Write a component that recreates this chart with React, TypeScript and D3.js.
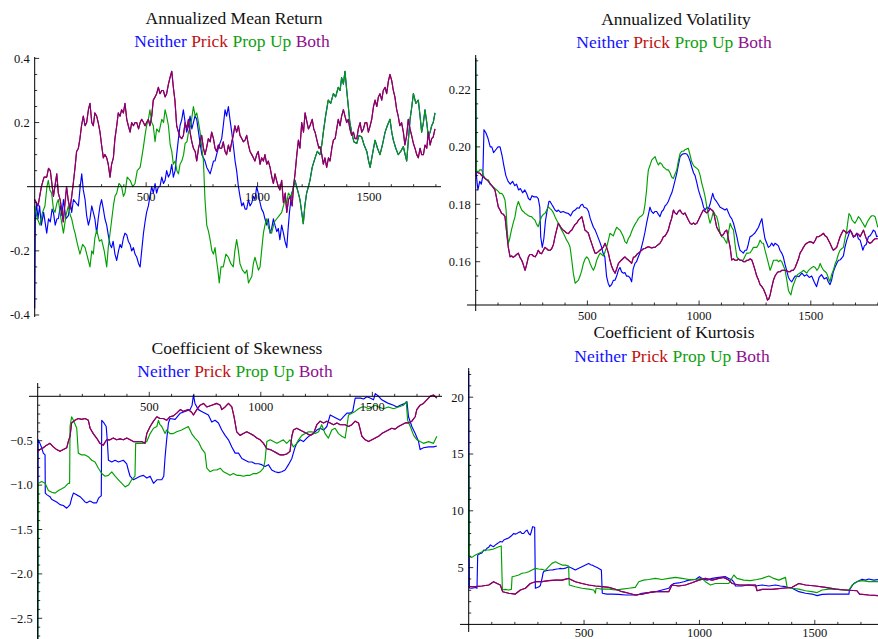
import React from 'react';
import * as d3 from 'd3';

type Pt = [number, number];

// legend / series names and colours
const seriesNames = ['Neither', 'Prick', 'Prop Up', 'Both'];
const legendColors = ['#1111ff', '#c01010', '#10a010', '#901090'];
const lineColors = ['#0000ff', '#c00000', '#00a000', '#800080'];

const titles = ['Annualized Mean Return', 'Annualized Volatility', 'Coefficient of Skewness', 'Coefficient of Kurtosis'];
const xTickLabels = [500, 1000, 1500];

// ---------- Annualized Mean Return ----------
const retPropUp: Pt[] = [[0,-0.06],[12,-0.1],[24,-0.12],[35,-0.08],[46,-0.06],[55,0.0],[61,0.02],[68,-0.01],[76,-0.02],[84,-0.07],[91,-0.08],[100,-0.05],[106,-0.04],[118,-0.1],[129,-0.145],[140,-0.09],[151,-0.06],[160,-0.09],[166,-0.1],[175,-0.13],[181,-0.145],[192,-0.18],[203,-0.21],[215,-0.18],[226,-0.19],[237,-0.22],[248,-0.25],[256,-0.2],[263,-0.21],[270,-0.16],[278,-0.135],[290,-0.17],[300,-0.165],[312,-0.2],[323,-0.25],[330,-0.19],[338,-0.145],[346,-0.1],[353,-0.06],[360,-0.03],[368,-0.02],[378,0.01],[390,0.0],[398,-0.03],[405,-0.02],[415,0.03],[428,0.02],[440,0.0],[450,0.01],[460,0.05],[473,0.06],[480,0.09],[488,0.125],[495,0.16],[502,0.19],[510,0.21],[517,0.24],[525,0.2],[532,0.19],[540,0.14],[547,0.18],[558,0.17],[570,0.21],[578,0.2],[585,0.24],[592,0.22],[600,0.19],[608,0.13],[615,0.11],[622,0.07],[630,0.08],[638,0.05],[645,0.04],[652,0.07],[660,0.08],[668,0.1],[675,0.135],[683,0.14],[690,0.17],[700,0.19],[712,0.25],[720,0.22],[727,0.23],[735,0.2],[742,0.17],[750,0.12],[757,0.08],[764,-0.04],[772,-0.12],[780,-0.14],[787,-0.165],[795,-0.2],[802,-0.21],[809,-0.19],[816,-0.23],[822,-0.26],[828,-0.3],[836,-0.25],[846,-0.25],[858,-0.21],[869,-0.22],[880,-0.24],[891,-0.25],[898,-0.2],[906,-0.165],[914,-0.2],[921,-0.24],[932,-0.26],[944,-0.27],[952,-0.26],[959,-0.3],[966,-0.29],[974,-0.28],[981,-0.24],[988,-0.22],[996,-0.24],[1004,-0.26],[1011,-0.25],[1018,-0.2],[1026,-0.145],[1033,-0.12],[1041,-0.1],[1050,-0.13],[1063,-0.145],[1075,-0.11],[1086,-0.1],[1097,-0.09],[1108,-0.08],[1116,-0.06],[1123,-0.04],[1131,-0.05],[1138,-0.02],[1150,-0.03],[1161,0.0],[1168,0.02],[1175,0.0],[1183,-0.02],[1190,-0.04],[1198,-0.08],[1205,-0.115],[1212,-0.06],[1220,-0.02],[1228,0.0],[1235,0.02],[1245,0.06],[1258,0.09],[1268,0.11],[1280,0.1],[1288,0.13],[1295,0.17],[1305,0.22],[1317,0.27],[1328,0.26],[1340,0.29],[1350,0.28],[1362,0.31],[1370,0.3],[1377,0.34],[1385,0.32],[1392,0.36],[1400,0.3],[1407,0.25],[1414,0.2],[1422,0.17],[1432,0.14],[1445,0.135],[1455,0.16],[1467,0.155],[1478,0.13],[1490,0.11],[1498,0.08],[1505,0.06],[1515,0.1],[1527,0.145],[1538,0.12],[1549,0.1],[1560,0.13],[1572,0.17],[1582,0.19],[1594,0.21],[1602,0.17],[1609,0.145],[1620,0.12],[1631,0.1],[1642,0.11],[1654,0.125],[1662,0.1],[1669,0.08],[1677,0.15],[1684,0.21],[1692,0.25],[1699,0.29],[1710,0.26],[1721,0.27],[1729,0.22],[1736,0.17],[1744,0.2],[1751,0.24],[1759,0.2],[1766,0.155],[1774,0.17],[1781,0.19],[1788,0.2],[1796,0.23]];

const retNeitherEarly: Pt[] = [[0,-0.38],[3,-0.1],[8,-0.05],[15,-0.1],[22,-0.06],[30,-0.12],[40,-0.08],[54,-0.145],[62,-0.1],[70,-0.11],[78,-0.07],[84,-0.08],[92,-0.12],[100,-0.1],[106,-0.1],[115,-0.06],[122,-0.09],[129,-0.04],[140,-0.1],[151,-0.09],[160,-0.05],[166,-0.08],[174,-0.04],[185,-0.05],[196,-0.06],[204,0.0],[211,0.04],[218,-0.01],[226,-0.04],[233,-0.09],[241,-0.12],[248,-0.1],[256,-0.06],[263,-0.08],[270,-0.1],[278,-0.145],[285,-0.1],[293,-0.06],[300,-0.04],[308,-0.07],[315,-0.1],[323,-0.12],[330,-0.15],[338,-0.18],[345,-0.19],[352,-0.17],[360,-0.21],[368,-0.23],[376,-0.2],[383,-0.18],[390,-0.19],[398,-0.16],[405,-0.145],[413,-0.15],[420,-0.17],[428,-0.18],[435,-0.2],[443,-0.19],[450,-0.21],[458,-0.22],[466,-0.24],[473,-0.25],[480,-0.2],[488,-0.145],[495,-0.11],[502,-0.08],[510,-0.06],[517,-0.03],[525,0.0],[532,-0.02],[540,0.01],[547,-0.02],[555,0.0],[562,0.0],[570,0.03],[578,0.01],[585,0.02],[592,0.05],[600,0.03],[607,0.04],[615,0.07],[622,0.03],[630,0.05],[637,0.1],[645,0.15],[652,0.19],[660,0.21],[667,0.24],[675,0.2],[682,0.17],[690,0.19],[697,0.22],[705,0.18],[712,0.2],[719,0.22],[727,0.21],[735,0.17],[742,0.135],[750,0.1],[757,0.09],[764,0.08],[772,0.06],[780,0.05],[787,0.04],[795,0.06],[802,0.08],[809,0.08],[816,0.1],[824,0.12],[831,0.135],[839,0.15],[846,0.19],[854,0.24],[861,0.22],[869,0.25],[876,0.21],[884,0.17],[891,0.13],[899,0.08],[906,0.05],[914,0.0],[921,-0.03],[929,-0.06],[936,-0.05],[944,-0.07],[951,-0.07],[959,-0.04],[966,-0.06],[974,-0.05],[981,-0.03],[988,-0.04],[996,0.0],[1003,-0.02],[1011,-0.05],[1018,-0.07],[1026,-0.08],[1033,-0.1],[1041,-0.12],[1048,-0.1],[1056,-0.145],[1063,-0.13],[1071,-0.1],[1078,-0.12],[1086,-0.14],[1093,-0.13],[1100,-0.165],[1108,-0.12],[1116,-0.145],[1123,-0.17],[1131,-0.19],[1136,-0.14],[1143,-0.08],[1148,-0.05],[1153,-0.02],[1160,-0.01]];
// after ~1160 the Neither curve lies under Prop Up
const retNeither: Pt[] = [...retNeitherEarly, ...retPropUp.filter(d => d[0] > 1160)];

const retBoth: Pt[] = [[0,-0.04],[15,-0.06],[30,0.0],[42,0.03],[54,0.03],[62,0.057],[70,0.05],[84,-0.03],[99,0.04],[106,-0.02],[114,-0.04],[121,-0.07],[128,-0.11],[136,-0.05],[143,0.0],[150,-0.04],[158,-0.07],[166,-0.03],[173,0.01],[181,0.06],[188,0.11],[196,0.12],[203,0.15],[210,0.19],[218,0.22],[226,0.19],[233,0.2],[241,0.24],[248,0.26],[256,0.2],[263,0.19],[270,0.23],[278,0.22],[285,0.2],[293,0.17],[300,0.13],[308,0.09],[315,0.1],[323,0.09],[330,0.07],[338,0.03],[345,0.07],[353,0.09],[360,0.15],[368,0.19],[375,0.23],[383,0.22],[390,0.24],[398,0.23],[405,0.26],[413,0.21],[420,0.19],[428,0.17],[435,0.2],[443,0.19],[450,0.2],[458,0.2],[466,0.18],[473,0.2],[480,0.21],[488,0.2],[495,0.19],[502,0.2],[510,0.21],[517,0.19],[525,0.22],[532,0.27],[540,0.28],[547,0.29],[555,0.31],[562,0.29],[570,0.3],[577,0.3],[585,0.28],[592,0.29],[600,0.32],[607,0.34],[615,0.36],[622,0.31],[629,0.27],[637,0.19],[645,0.17],[652,0.155],[660,0.15],[667,0.16],[675,0.2],[682,0.18],[690,0.21],[697,0.17],[705,0.14],[712,0.12],[720,0.11],[727,0.08],[735,0.12],[742,0.14],[749,0.16],[757,0.12],[764,0.1],[771,0.12],[779,0.15],[787,0.14],[794,0.17],[802,0.15],[809,0.12],[816,0.11],[824,0.13],[831,0.12],[839,0.12],[846,0.14],[854,0.11],[861,0.1],[869,0.13],[876,0.11],[884,0.14],[891,0.16],[898,0.19],[906,0.17],[914,0.19],[921,0.16],[929,0.15],[936,0.14],[944,0.145],[951,0.16],[959,0.13],[966,0.11],[974,0.1],[981,0.09],[988,0.08],[996,0.1],[1003,0.11],[1011,0.07],[1018,0.09],[1026,0.08],[1033,0.1],[1041,0.07],[1048,0.08],[1056,0.06],[1064,0.03],[1071,0.01],[1078,0.04],[1085,0.02],[1093,0.0],[1100,-0.01],[1108,0.02],[1116,-0.05],[1124,-0.02],[1131,-0.08],[1139,-0.04],[1146,-0.03],[1155,-0.06],[1161,0.0],[1168,0.04],[1176,0.1],[1183,0.145],[1190,0.12],[1198,0.2],[1206,0.17],[1213,0.23],[1222,0.2],[1228,0.18],[1235,0.19],[1245,0.21],[1252,0.18],[1258,0.17],[1268,0.14],[1275,0.12],[1280,0.125],[1288,0.1],[1295,0.07],[1302,0.09],[1310,0.06],[1318,0.09],[1325,0.08],[1333,0.12],[1340,0.145],[1348,0.15],[1355,0.18],[1362,0.21],[1370,0.19],[1377,0.22],[1385,0.24],[1392,0.22],[1400,0.2],[1407,0.21],[1414,0.18],[1422,0.16],[1430,0.17],[1437,0.15],[1445,0.15],[1452,0.18],[1460,0.2],[1467,0.17],[1475,0.18],[1482,0.2],[1490,0.2],[1497,0.17],[1505,0.19],[1512,0.21],[1520,0.25],[1527,0.27],[1535,0.25],[1542,0.28],[1549,0.29],[1557,0.27],[1564,0.3],[1572,0.31],[1579,0.29],[1587,0.33],[1594,0.35],[1602,0.33],[1609,0.3],[1616,0.28],[1624,0.24],[1631,0.22],[1638,0.19],[1646,0.2],[1654,0.17],[1661,0.13],[1669,0.16],[1676,0.21],[1684,0.18],[1691,0.16],[1699,0.135],[1706,0.12],[1714,0.1],[1721,0.09],[1729,0.12],[1736,0.1],[1744,0.1],[1751,0.13],[1759,0.12],[1766,0.17],[1774,0.13],[1781,0.15],[1788,0.155],[1796,0.18]];
const retPrick: Pt[] = retBoth;

// ---------- Annualized Volatility ----------
const volNeither: Pt[] = [[0,0.231],[3,0.19],[10,0.185],[18,0.188],[25,0.187],[32,0.19],[37,0.206],[45,0.205],[55,0.203],[65,0.2],[72,0.2],[80,0.198],[90,0.199],[100,0.2],[109,0.2],[118,0.197],[126,0.1935],[135,0.19],[145,0.188],[155,0.187],[165,0.188],[175,0.1865],[183,0.187],[192,0.185],[200,0.1855],[210,0.184],[220,0.185],[228,0.1838],[236,0.182],[244,0.1815],[252,0.183],[260,0.1826],[266,0.1826],[273,0.1826],[280,0.182],[287,0.179],[291,0.1687],[298,0.165],[305,0.168],[312,0.174],[320,0.178],[328,0.181],[333,0.181],[340,0.18],[348,0.179],[355,0.178],[363,0.1775],[370,0.178],[380,0.1772],[392,0.1775],[405,0.177],[415,0.1768],[425,0.176],[435,0.1775],[445,0.178],[455,0.1788],[463,0.1786],[470,0.1797],[478,0.18],[485,0.179],[497,0.1786],[505,0.1775],[513,0.175],[520,0.1735],[527,0.172],[535,0.171],[545,0.169],[555,0.167],[564,0.165],[570,0.163],[578,0.1617],[586,0.1548],[593,0.1525],[600,0.1513],[608,0.152],[616,0.1535],[624,0.1536],[631,0.155],[639,0.1571],[646,0.158],[653,0.1565],[660,0.156],[668,0.1562],[675,0.155],[683,0.155],[690,0.1545],[698,0.153],[705,0.1575],[713,0.1594],[720,0.16],[728,0.1617],[735,0.163],[742,0.165],[750,0.1675],[757,0.17],[765,0.1734],[772,0.176],[780,0.179],[787,0.1775],[795,0.1768],[803,0.1775],[810,0.1775],[818,0.1765],[825,0.1757],[833,0.1775],[840,0.178],[848,0.1795],[855,0.18],[862,0.181],[870,0.1826],[878,0.184],[885,0.186],[893,0.1885],[900,0.1908],[908,0.194],[915,0.1966],[925,0.1975],[937,0.1977],[945,0.1975],[952,0.1966],[960,0.195],[967,0.193],[975,0.191],[982,0.19],[990,0.1875],[997,0.185],[1005,0.183],[1012,0.1815],[1020,0.179],[1027,0.178],[1035,0.179],[1042,0.1785],[1049,0.18],[1055,0.182],[1061,0.1838],[1068,0.182],[1078,0.181],[1086,0.18],[1094,0.179],[1105,0.1785],[1116,0.178],[1124,0.1785],[1132,0.177],[1139,0.1757],[1146,0.175],[1154,0.1734],[1162,0.171],[1169,0.1687],[1176,0.166],[1183,0.164],[1191,0.1635],[1198,0.163],[1206,0.164],[1213,0.164],[1220,0.166],[1228,0.1687],[1236,0.169],[1243,0.1695],[1250,0.17],[1258,0.171],[1266,0.172],[1273,0.1735],[1281,0.175],[1288,0.1712],[1295,0.168],[1303,0.1664],[1310,0.165],[1318,0.1655],[1325,0.1665],[1333,0.1655],[1340,0.1664],[1348,0.166],[1355,0.1655],[1362,0.164],[1370,0.163],[1377,0.1617],[1385,0.159],[1392,0.157],[1400,0.1545],[1407,0.1536],[1415,0.153],[1422,0.154],[1430,0.155],[1437,0.155],[1447,0.1548],[1460,0.156],[1472,0.155],[1482,0.1555],[1493,0.1545],[1504,0.155],[1515,0.153],[1526,0.1513],[1537,0.1545],[1548,0.1555],[1560,0.154],[1571,0.1545],[1578,0.153],[1586,0.152],[1593,0.1535],[1601,0.1565],[1608,0.158],[1616,0.1594],[1624,0.1605],[1631,0.1606],[1638,0.1612],[1646,0.162],[1653,0.165],[1661,0.1675],[1668,0.169],[1676,0.171],[1683,0.17],[1691,0.1685],[1698,0.169],[1706,0.1699],[1713,0.168],[1721,0.1675],[1728,0.1655],[1733,0.164],[1740,0.1655],[1748,0.166],[1758,0.1687],[1765,0.169],[1773,0.1699],[1780,0.171],[1788,0.1705],[1795,0.1687],[1800,0.169]];

const volPropUp: Pt[] = [[0,0.231],[3,0.192],[10,0.191],[18,0.192],[27,0.192],[35,0.19],[42,0.189],[50,0.1885],[57,0.1885],[64,0.187],[72,0.1865],[80,0.186],[86,0.1855],[94,0.185],[101,0.1845],[108,0.1838],[116,0.1838],[124,0.183],[131,0.1815],[136,0.178],[139,0.1734],[143,0.169],[146,0.1664],[152,0.168],[160,0.171],[168,0.1735],[176,0.1757],[183,0.179],[191,0.181],[198,0.1795],[206,0.178],[213,0.1775],[221,0.1768],[228,0.1765],[236,0.176],[243,0.1758],[250,0.1757],[258,0.175],[265,0.1745],[273,0.173],[280,0.1722],[287,0.174],[295,0.1757],[303,0.1765],[310,0.1768],[318,0.178],[325,0.1791],[333,0.1785],[340,0.178],[348,0.177],[355,0.1757],[362,0.1745],[370,0.1734],[377,0.1722],[385,0.171],[392,0.17],[400,0.1687],[407,0.1675],[415,0.1665],[422,0.1652],[426,0.163],[430,0.1606],[437,0.156],[445,0.1525],[452,0.153],[460,0.1536],[467,0.155],[475,0.157],[482,0.1594],[490,0.161],[497,0.1617],[505,0.161],[512,0.1594],[520,0.158],[527,0.157],[535,0.1585],[542,0.1606],[550,0.162],[557,0.163],[564,0.1625],[572,0.162],[579,0.1635],[586,0.165],[594,0.1675],[601,0.1699],[608,0.1695],[616,0.169],[623,0.1705],[631,0.172],[638,0.1715],[646,0.171],[653,0.17],[661,0.1687],[668,0.167],[676,0.1664],[683,0.168],[691,0.169],[698,0.1705],[706,0.172],[713,0.173],[721,0.174],[728,0.175],[736,0.1757],[743,0.176],[751,0.1768],[758,0.18],[765,0.185],[769,0.189],[773,0.192],[780,0.1935],[788,0.1954],[795,0.196],[803,0.1966],[810,0.195],[818,0.1937],[825,0.1945],[833,0.194],[840,0.193],[848,0.1925],[855,0.192],[862,0.192],[870,0.191],[877,0.1895],[885,0.189],[892,0.1905],[900,0.192],[907,0.195],[915,0.1977],[922,0.1985],[930,0.1985],[937,0.199],[945,0.1993],[952,0.1995],[960,0.197],[967,0.1948],[975,0.1935],[982,0.193],[990,0.1925],[997,0.192],[1005,0.19],[1012,0.1873],[1020,0.185],[1027,0.1826],[1035,0.179],[1042,0.1757],[1049,0.1734],[1056,0.175],[1064,0.1775],[1071,0.1765],[1079,0.1757],[1086,0.1735],[1094,0.1699],[1101,0.1687],[1109,0.1685],[1116,0.1675],[1124,0.1664],[1131,0.17],[1139,0.1734],[1146,0.172],[1154,0.171],[1161,0.166],[1169,0.1617],[1176,0.161],[1183,0.1606],[1191,0.1605],[1198,0.1606],[1206,0.162],[1213,0.163],[1221,0.163],[1228,0.1631],[1236,0.164],[1243,0.165],[1250,0.165],[1258,0.165],[1266,0.166],[1273,0.1675],[1281,0.1665],[1288,0.1664],[1295,0.164],[1303,0.1617],[1310,0.1595],[1318,0.157],[1325,0.1585],[1333,0.1605],[1340,0.1605],[1348,0.1606],[1355,0.16],[1363,0.1605],[1370,0.16],[1378,0.1585],[1385,0.157],[1393,0.1535],[1400,0.15],[1406,0.149],[1411,0.1484],[1418,0.151],[1425,0.1525],[1432,0.154],[1440,0.1555],[1450,0.156],[1460,0.1565],[1467,0.157],[1475,0.1565],[1482,0.156],[1490,0.157],[1497,0.1575],[1505,0.158],[1512,0.1583],[1520,0.158],[1527,0.157],[1535,0.1578],[1542,0.1594],[1550,0.158],[1557,0.157],[1565,0.1565],[1571,0.156],[1578,0.1545],[1586,0.153],[1593,0.1555],[1601,0.157],[1608,0.159],[1616,0.1606],[1623,0.1625],[1631,0.164],[1638,0.1645],[1646,0.165],[1653,0.168],[1661,0.171],[1666,0.174],[1671,0.1768],[1678,0.176],[1685,0.1745],[1691,0.174],[1698,0.1734],[1706,0.1745],[1713,0.1757],[1721,0.175],[1728,0.174],[1736,0.173],[1743,0.172],[1751,0.1735],[1758,0.1745],[1766,0.1755],[1773,0.176],[1781,0.176],[1788,0.1757],[1795,0.1735],[1800,0.172]];

const volBoth: Pt[] = [[0,0.1914],[10,0.191],[19,0.1908],[27,0.19],[35,0.1895],[42,0.189],[50,0.1885],[57,0.188],[64,0.1873],[72,0.1865],[79,0.1858],[86,0.185],[94,0.182],[101,0.1791],[109,0.178],[116,0.1768],[124,0.1765],[131,0.1757],[135,0.173],[139,0.1699],[146,0.165],[154,0.1617],[161,0.162],[168,0.1615],[176,0.162],[183,0.1625],[191,0.163],[198,0.1615],[206,0.1605],[213,0.159],[221,0.157],[228,0.159],[236,0.1617],[243,0.1625],[251,0.1625],[258,0.162],[266,0.1617],[273,0.1625],[280,0.164],[288,0.163],[295,0.1628],[303,0.164],[310,0.165],[318,0.1645],[325,0.164],[333,0.164],[340,0.1645],[348,0.166],[355,0.1687],[362,0.171],[370,0.1734],[377,0.1725],[385,0.1715],[392,0.171],[400,0.1705],[407,0.17],[415,0.1698],[422,0.1705],[430,0.171],[437,0.172],[445,0.173],[452,0.1734],[460,0.1745],[467,0.175],[475,0.1757],[482,0.1735],[489,0.171],[497,0.1705],[504,0.17],[512,0.168],[519,0.1664],[527,0.1645],[534,0.163],[541,0.163],[549,0.1635],[556,0.164],[564,0.1645],[571,0.165],[579,0.1664],[586,0.165],[594,0.163],[601,0.1605],[609,0.1583],[616,0.157],[624,0.156],[631,0.1575],[639,0.1594],[646,0.16],[653,0.1606],[661,0.1612],[668,0.1617],[676,0.161],[683,0.1606],[691,0.16],[698,0.1594],[706,0.1615],[713,0.1617],[721,0.1625],[728,0.163],[736,0.1635],[743,0.164],[751,0.1645],[758,0.1646],[766,0.165],[773,0.1652],[781,0.165],[788,0.1648],[796,0.165],[803,0.165],[810,0.1655],[818,0.166],[825,0.1664],[833,0.1675],[840,0.1687],[848,0.169],[855,0.1699],[862,0.171],[870,0.1734],[877,0.175],[885,0.178],[892,0.177],[900,0.1765],[907,0.1775],[915,0.178],[922,0.177],[930,0.1765],[937,0.177],[945,0.1757],[952,0.1745],[960,0.1734],[967,0.173],[975,0.1735],[982,0.173],[990,0.1734],[997,0.1745],[1004,0.1757],[1012,0.177],[1019,0.178],[1027,0.1775],[1034,0.177],[1042,0.1775],[1049,0.1786],[1057,0.178],[1064,0.1775],[1071,0.175],[1079,0.172],[1086,0.171],[1094,0.1699],[1101,0.169],[1109,0.1695],[1116,0.1705],[1124,0.171],[1131,0.168],[1139,0.165],[1143,0.1625],[1146,0.1606],[1154,0.161],[1161,0.1605],[1169,0.1605],[1176,0.161],[1184,0.1605],[1191,0.1605],[1199,0.16],[1206,0.16],[1214,0.1605],[1221,0.1605],[1228,0.161],[1236,0.1606],[1243,0.159],[1251,0.157],[1258,0.155],[1266,0.1536],[1273,0.152],[1281,0.1513],[1288,0.1505],[1296,0.149],[1301,0.148],[1306,0.1466],[1312,0.147],[1318,0.1484],[1325,0.151],[1333,0.1536],[1340,0.155],[1348,0.156],[1355,0.1565],[1363,0.1565],[1370,0.157],[1377,0.157],[1385,0.157],[1392,0.1568],[1400,0.1565],[1407,0.1565],[1415,0.157],[1422,0.157],[1430,0.158],[1437,0.1594],[1445,0.161],[1452,0.163],[1460,0.164],[1467,0.165],[1475,0.166],[1482,0.1664],[1490,0.1668],[1497,0.167],[1505,0.1668],[1512,0.1664],[1520,0.1675],[1527,0.1687],[1535,0.1687],[1542,0.169],[1550,0.1695],[1557,0.1699],[1564,0.169],[1571,0.1687],[1579,0.1675],[1586,0.1664],[1594,0.165],[1601,0.164],[1609,0.1645],[1616,0.165],[1624,0.167],[1631,0.1687],[1639,0.17],[1646,0.171],[1654,0.1705],[1661,0.1699],[1669,0.1705],[1676,0.171],[1684,0.17],[1691,0.1687],[1699,0.169],[1706,0.1699],[1714,0.1695],[1721,0.1687],[1729,0.17],[1736,0.171],[1744,0.169],[1751,0.1675],[1758,0.1668],[1765,0.1664],[1773,0.1668],[1780,0.1675],[1788,0.168],[1795,0.168],[1800,0.168]];
const volPrick: Pt[] = volBoth;

// ---------- Coefficient of Skewness ----------
const skewNeither: Pt[] = [[0,-2.9],[2,-0.49],[10,-0.53],[18,-0.58],[25,-0.64],[33,-0.66],[34,-1.09],[42,-1.11],[55,-1.13],[62,-1.16],[70,-1.17],[85,-1.19],[100,-1.22],[115,-1.23],[130,-1.26],[138,-1.24],[145,-1.22],[152,-1.15],[160,-1.09],[168,-1.1],[175,-1.11],[190,-1.13],[205,-1.17],[212,-1.19],[220,-1.2],[234,-1.18],[249,-1.2],[264,-1.2],[272,-1.15],[280,-1.13],[285,-1.12],[287,-0.27],[297,-0.3],[307,-0.34],[312,-0.5],[317,-0.72],[332,-0.74],[347,-0.72],[362,-0.74],[384,-0.72],[399,-0.76],[406,-0.83],[414,-0.9],[429,-0.94],[444,-0.92],[459,-0.9],[474,-0.89],[489,-0.92],[504,-0.9],[519,-0.98],[534,-0.94],[556,-0.94],[565,-0.9],[571,-0.68],[578,-0.49],[586,-0.3],[593,-0.25],[616,-0.26],[639,-0.19],[660,-0.17],[683,-0.15],[692,-0.1],[698,0.015],[705,-0.08],[720,-0.15],[735,-0.17],[750,-0.19],[765,-0.21],[780,-0.29],[795,-0.27],[810,-0.3],[825,-0.38],[840,-0.44],[855,-0.49],[870,-0.57],[885,-0.64],[900,-0.64],[915,-0.7],[930,-0.72],[945,-0.74],[960,-0.74],[975,-0.76],[990,-0.76],[1004,-0.77],[1019,-0.79],[1034,-0.77],[1049,-0.83],[1064,-0.85],[1079,-0.86],[1094,-0.85],[1109,-0.83],[1124,-0.77],[1139,-0.7],[1154,-0.57],[1161,-0.53],[1176,-0.49],[1191,-0.51],[1206,-0.47],[1221,-0.44],[1236,-0.42],[1251,-0.38],[1266,-0.36],[1281,-0.38],[1296,-0.34],[1311,-0.21],[1326,-0.23],[1341,-0.25],[1356,-0.27],[1371,-0.23],[1386,-0.19],[1400,-0.19],[1412,-0.17],[1423,-0.02],[1447,-0.02],[1461,-0.03],[1475,-0.005],[1490,-0.02],[1505,-0.04],[1513,0.03],[1528,0.0],[1542,-0.04],[1557,-0.06],[1572,-0.08],[1595,-0.1],[1610,-0.12],[1625,-0.1],[1647,-0.08],[1655,-0.06],[1662,-0.23],[1677,-0.34],[1692,-0.42],[1707,-0.51],[1714,-0.6],[1729,-0.58],[1752,-0.57],[1774,-0.57],[1789,-0.56]];

const skewPropUp: Pt[] = [[0,-2.9],[3,-0.98],[18,-0.96],[33,-0.98],[48,-1.06],[63,-1.08],[78,-1.09],[93,-1.06],[108,-1.04],[122,-1.02],[137,-0.98],[143,-0.98],[145,-0.34],[152,-0.23],[160,-0.27],[175,-0.36],[182,-0.64],[197,-0.66],[212,-0.66],[227,-0.68],[242,-0.72],[257,-0.74],[272,-0.81],[287,-0.87],[302,-0.9],[317,-0.89],[332,-0.85],[347,-0.9],[362,-0.94],[377,-0.98],[392,-1.02],[407,-1.0],[421,-0.94],[436,-0.9],[439,-0.53],[454,-0.53],[473,-0.53],[489,-0.51],[504,-0.42],[519,-0.36],[534,-0.34],[541,-0.27],[548,-0.32],[556,-0.34],[571,-0.42],[578,-0.38],[593,-0.42],[608,-0.42],[623,-0.4],[645,-0.38],[660,-0.36],[675,-0.34],[690,-0.42],[705,-0.47],[720,-0.51],[735,-0.59],[750,-0.64],[758,-0.81],[773,-0.85],[788,-0.83],[803,-0.83],[818,-0.81],[833,-0.85],[848,-0.87],[862,-0.89],[877,-0.87],[892,-0.89],[907,-0.89],[922,-0.9],[937,-0.89],[952,-0.89],[967,-0.87],[982,-0.87],[997,-0.85],[1012,-0.81],[1019,-0.72],[1027,-0.51],[1042,-0.49],[1057,-0.51],[1072,-0.53],[1087,-0.51],[1101,-0.49],[1116,-0.53],[1131,-0.49],[1146,-0.57],[1161,-0.53],[1169,-0.49],[1184,-0.44],[1199,-0.42],[1214,-0.4],[1229,-0.4],[1244,-0.42],[1259,-0.4],[1273,-0.32],[1288,-0.42],[1303,-0.47],[1318,-0.38],[1333,-0.36],[1348,-0.42],[1363,-0.45],[1378,-0.47],[1386,-0.34],[1393,-0.21],[1408,-0.19],[1423,-0.17],[1438,-0.14],[1453,-0.12],[1468,-0.12],[1483,-0.14],[1498,-0.12],[1513,-0.1],[1528,-0.12],[1550,-0.14],[1572,-0.12],[1595,-0.14],[1617,-0.12],[1640,-0.1],[1652,-0.06],[1658,-0.27],[1670,-0.34],[1685,-0.44],[1700,-0.49],[1714,-0.51],[1729,-0.53],[1752,-0.51],[1774,-0.53],[1789,-0.45]];

const skewBoth: Pt[] = [[0,-0.62],[10,-0.6],[25,-0.58],[40,-0.55],[55,-0.53],[70,-0.57],[85,-0.6],[100,-0.62],[115,-0.6],[130,-0.58],[137,-0.51],[145,-0.45],[152,-0.3],[167,-0.27],[182,-0.25],[197,-0.26],[212,-0.25],[227,-0.27],[235,-0.36],[249,-0.42],[264,-0.47],[279,-0.53],[294,-0.55],[309,-0.49],[324,-0.49],[339,-0.47],[354,-0.49],[369,-0.48],[384,-0.49],[399,-0.47],[414,-0.49],[429,-0.51],[444,-0.51],[466,-0.51],[481,-0.53],[489,-0.42],[504,-0.34],[519,-0.28],[534,-0.23],[548,-0.25],[563,-0.25],[578,-0.27],[593,-0.23],[608,-0.22],[623,-0.19],[639,-0.15],[653,-0.17],[675,-0.15],[690,-0.18],[698,-0.21],[713,-0.15],[728,-0.1],[743,-0.08],[758,-0.12],[780,-0.1],[803,-0.08],[818,-0.1],[825,-0.15],[840,-0.12],[855,-0.08],[870,-0.12],[880,-0.23],[892,-0.4],[907,-0.44],[922,-0.42],[937,-0.4],[952,-0.42],[967,-0.44],[982,-0.47],[997,-0.49],[1012,-0.53],[1027,-0.59],[1042,-0.6],[1057,-0.62],[1072,-0.64],[1087,-0.66],[1101,-0.66],[1116,-0.65],[1131,-0.62],[1139,-0.45],[1146,-0.38],[1161,-0.36],[1176,-0.38],[1191,-0.4],[1206,-0.42],[1221,-0.44],[1236,-0.42],[1251,-0.32],[1266,-0.28],[1281,-0.3],[1296,-0.28],[1311,-0.3],[1326,-0.32],[1341,-0.3],[1356,-0.32],[1378,-0.32],[1393,-0.34],[1408,-0.32],[1423,-0.28],[1438,-0.3],[1453,-0.45],[1468,-0.49],[1483,-0.51],[1498,-0.49],[1513,-0.47],[1528,-0.45],[1542,-0.42],[1557,-0.4],[1572,-0.38],[1587,-0.36],[1602,-0.37],[1617,-0.34],[1632,-0.32],[1647,-0.3],[1662,-0.3],[1677,-0.28],[1692,-0.23],[1699,-0.15],[1714,-0.1],[1729,-0.08],[1744,-0.04],[1759,0.0],[1774,0.015],[1789,-0.02]];
const skewPrick: Pt[] = skewBoth;

// ---------- Coefficient of Kurtosis ----------
const kurtNeither: Pt[] = [[0,22.3],[3,3.2],[14,3.18],[29,3.25],[36,3.18],[39,6.1],[50,6.25],[58,6.3],[65,6.55],[72,6.5],[79,6.7],[87,6.8],[94,7.0],[101,6.9],[108,6.85],[116,7.0],[123,7.1],[130,7.2],[137,7.3],[145,7.25],[152,7.43],[159,7.5],[166,7.55],[173,7.6],[180,7.72],[188,7.85],[195,8.0],[202,7.95],[209,8.0],[217,8.1],[224,8.16],[231,8.0],[238,8.0],[246,8.2],[253,8.3],[260,8.0],[267,7.87],[272,8.2],[277,8.6],[286,8.55],[289,3.18],[303,3.3],[310,3.4],[318,4.06],[322,4.5],[325,4.65],[339,4.74],[354,4.79],[365,4.8],[376,4.85],[390,4.9],[397,4.93],[408,4.9],[419,4.95],[433,5.08],[448,4.95],[462,4.79],[477,4.95],[491,5.08],[506,5.22],[513,5.3],[520,5.37],[528,5.25],[535,5.22],[542,5.15],[549,5.08],[557,5.0],[564,4.93],[575,4.79],[579,2.74],[599,2.67],[621,2.67],[650,2.64],[679,2.59],[708,2.59],[730,2.59],[751,2.74],[780,2.8],[809,2.88],[838,3.03],[867,3.18],[875,3.4],[889,3.6],[910,3.65],[932,3.76],[954,3.9],[983,3.95],[1000,4.2],[1011,4.05],[1033,3.9],[1055,4.05],[1084,4.14],[1113,4.2],[1127,4.05],[1142,3.9],[1150,3.7],[1156,3.38],[1185,3.38],[1214,3.47],[1243,3.38],[1272,3.47],[1301,3.38],[1330,3.47],[1351,3.38],[1373,3.32],[1402,3.18],[1431,2.88],[1460,2.74],[1488,2.67],[1510,2.53],[1532,2.64],[1561,2.67],[1590,2.67],[1619,2.67],[1648,2.67],[1650,3.03],[1669,3.6],[1683,3.76],[1705,3.97],[1720,3.9],[1734,4.0],[1755,3.9],[1775,3.95],[1800,3.9]];

const kurtPropUp: Pt[] = [[0,15],[3,5.96],[14,5.9],[29,6.1],[43,6.25],[58,6.4],[72,6.55],[87,6.55],[101,6.6],[116,6.7],[130,6.84],[141,6.9],[146,3.03],[159,3.08],[173,3.03],[185,3.08],[188,4.2],[202,4.26],[217,4.35],[231,4.5],[246,4.55],[260,4.64],[274,4.79],[289,4.93],[303,4.88],[318,4.85],[332,4.75],[347,5.08],[361,5.37],[376,5.51],[390,5.37],[405,5.22],[419,5.22],[433,5.13],[436,3.47],[462,3.32],[491,3.18],[520,3.1],[542,3.03],[549,2.74],[552,3.18],[578,3.1],[607,3.1],[636,3.03],[665,3.1],[694,3.18],[722,3.26],[737,3.76],[758,3.9],[780,3.95],[809,4.05],[838,3.95],[867,4.05],[896,4.14],[925,4.05],[954,3.95],[983,3.95],[1011,4.05],[1026,3.76],[1048,3.47],[1069,3.6],[1098,3.6],[1127,3.6],[1149,4.35],[1163,4.05],[1192,3.9],[1221,3.85],[1250,3.95],[1272,4.05],[1301,4.26],[1322,4.05],[1344,3.9],[1373,4.14],[1380,3.26],[1402,3.18],[1431,3.1],[1460,2.96],[1488,2.88],[1510,2.8],[1532,3.03],[1561,3.1],[1590,3.1],[1619,3.03],[1648,3.03],[1662,3.47],[1683,3.76],[1705,3.85],[1734,3.76],[1775,3.76],[1800,3.8]];

const kurtBoth: Pt[] = [[0,3.32],[29,3.32],[58,3.38],[87,3.47],[108,3.76],[123,3.6],[137,3.47],[147,2.88],[173,2.74],[202,2.67],[224,3.03],[246,3.18],[267,3.6],[289,3.76],[318,3.76],[347,3.85],[376,3.9],[405,3.9],[433,4.05],[462,3.76],[491,3.6],[520,3.47],[549,3.38],[578,3.32],[607,3.26],[636,3.1],[665,2.88],[694,2.74],[722,2.59],[751,2.67],[780,2.8],[809,2.88],[838,2.88],[867,2.88],[881,3.47],[910,3.38],[939,3.47],[968,3.67],[997,3.9],[1026,4.05],[1055,3.9],[1084,4.05],[1105,4.14],[1127,3.9],[1142,3.6],[1171,3.47],[1214,3.47],[1243,3.47],[1250,2.96],[1272,3.08],[1315,3.08],[1359,3.18],[1402,3.26],[1431,3.6],[1460,3.47],[1503,3.38],[1546,3.26],[1590,3.1],[1633,3.03],[1683,2.96],[1694,2.67],[1734,2.59],[1775,2.53],[1800,2.53]];
const kurtPrick: Pt[] = kurtBoth;

// y tick labels per panel
const retTicks = [0.4, 0.2, -0.2, -0.4];
const volTicks = [0.22, 0.2, 0.18, 0.16];
const skewTicks = [-0.5, -1.0, -1.5, -2.0, -2.5];
const kurtTicks = [20, 15, 10, 5];

interface Panel {
  title: string;
  series: Pt[][];
  x: d3.ScaleLinear<number, number>;
  y: d3.ScaleLinear<number, number>;
  xAxisY: number;
  xLabelDy: number;
  xAxisExtent: [number, number];
  yAxisExtent: [number, number];
  yMajor: number[];
  yMinorStep: number;
  yMinorRange: [number, number];
  yFmt: (v: number) => string;
  clip: [number, number, number, number];
  titleX: number;
  titleY: number;
  legendX: number;
  legendY: number;
}

const panels: Panel[] = [
  {
    title: titles[0],
    series: [retNeither, retPrick, retPropUp, retBoth],
    x: d3.scaleLinear().domain([0, 1800]).range([34.7, 435.9]),
    y: d3.scaleLinear().domain([-0.4, 0.4]).range([315, 58.4]),
    xAxisY: 186.7,
    xLabelDy: 14.5,
    xAxisExtent: [27, 441],
    yAxisExtent: [57, 317],
    yMajor: retTicks,
    yMinorStep: 0.05,
    yMinorRange: [-0.4, 0.4],
    yFmt: v => d3.format('.1f')(v).replace('−', '-'),
    clip: [34, 50, 407, 270],
    titleX: 234, titleY: 24, legendX: 232, legendY: 47,
  },
  {
    title: titles[1],
    series: [volNeither, volPrick, volPropUp, volBoth],
    x: d3.scaleLinear().domain([0, 1800]).range([475.7, 877.8]),
    y: d3.scaleLinear().domain([0.16, 0.22]).range([261.7, 89.5]),
    xAxisY: 305,
    xLabelDy: 14.5,
    xAxisExtent: [467, 878],
    yAxisExtent: [55, 311],
    yMajor: volTicks,
    yMinorStep: 0.005,
    yMinorRange: [0.15, 0.23],
    yFmt: v => d3.format('.2f')(v),
    clip: [475, 55, 403, 250],
    titleX: 676, titleY: 25, legendX: 674, legendY: 48,
  },
  {
    title: titles[2],
    series: [skewNeither, skewPrick, skewPropUp, skewBoth],
    x: d3.scaleLinear().domain([0, 1800]).range([37.7, 439.3]),
    y: d3.scaleLinear().domain([0, -2.5]).range([396.3, 618.3]),
    xAxisY: 396.3,
    xLabelDy: 14.5,
    xAxisExtent: [29, 442],
    yAxisExtent: [383, 639],
    yMajor: skewTicks,
    yMinorStep: 0.1,
    yMinorRange: [-2.7, 0.1],
    yFmt: v => d3.format('.1f')(v),
    clip: [37, 383, 405, 256],
    titleX: 237, titleY: 354, legendX: 235, legendY: 377,
  },
  {
    title: titles[3],
    series: [kurtNeither, kurtPrick, kurtPropUp, kurtBoth],
    x: d3.scaleLinear().domain([0, 1800]).range([468.7, 884]),
    y: d3.scaleLinear().domain([0, 20]).range([624.4, 397.2]),
    xAxisY: 624.4,
    xLabelDy: 12.3,
    xAxisExtent: [460, 878],
    yAxisExtent: [368, 632],
    yMajor: kurtTicks,
    yMinorStep: 1,
    yMinorRange: [1, 22],
    yFmt: v => String(v),
    clip: [468, 368, 410, 257],
    titleX: 674, titleY: 338, legendX: 672, legendY: 362,
  },
];

const font = '"Liberation Serif", "Times New Roman", serif';

const PanelView: React.FC<{ p: Panel; idx: number }> = ({ p, idx }) => {
  const line = d3.line<Pt>().x(d => p.x(d[0])).y(d => p.y(d[1]));
  const yAxisX = p.x(0);
  const xTicks = d3.range(100, 1801, 100);
  const yMinor = d3.range(
    Math.round(p.yMinorRange[0] / p.yMinorStep),
    Math.round(p.yMinorRange[1] / p.yMinorStep) + 1
  ).map(k => k * p.yMinorStep)
    .filter(v => {
      const py = p.y(v);
      return py >= p.yAxisExtent[0] && py <= p.yAxisExtent[1] && Math.abs(py - p.xAxisY) > 0.5;
    });
  const clipId = `clip-${idx}`;
  return (
    <g>
      <defs>
        <clipPath id={clipId}>
          <rect x={p.clip[0]} y={p.clip[1]} width={p.clip[2]} height={p.clip[3]} />
        </clipPath>
      </defs>
      {/* title + legend */}
      <text x={p.titleX} y={p.titleY} textAnchor="middle" fontFamily={font} fontSize={17.5} fill="#111">{p.title}</text>
      <text x={p.legendX} y={p.legendY} textAnchor="middle" fontFamily={font} fontSize={17.5}>
        {seriesNames.map((n, i) => (
          <tspan key={n} fill={legendColors[i]}>{i < seriesNames.length - 1 ? n + ' ' : n}</tspan>
        ))}
      </text>
      {/* series */}
      <g clipPath={`url(#${clipId})`}>
        {p.series.map((s, i) => (
          <path key={i} d={line(s) || ''} fill="none" stroke={lineColors[i]} strokeWidth={1.15} strokeLinejoin="round" />
        ))}
      </g>
      {/* axes */}
      <line x1={p.xAxisExtent[0]} x2={p.xAxisExtent[1]} y1={p.xAxisY} y2={p.xAxisY} stroke="#000" strokeWidth={1} />
      <line x1={yAxisX} x2={yAxisX} y1={p.yAxisExtent[0]} y2={p.yAxisExtent[1]} stroke="#000" strokeWidth={1} />
      {xTicks.map(t => {
        const major = t % 500 === 0;
        const px = p.x(t);
        if (px > 878) return null;
        return <line key={t} x1={px} x2={px} y1={p.xAxisY} y2={p.xAxisY - (major ? 4.5 : 2.5)} stroke="#000" strokeWidth={0.8} />;
      })}
      {xTickLabels.map(t => (
        <text key={t} x={p.x(t)} y={p.xAxisY + p.xLabelDy} textAnchor="middle" fontFamily={font} fontSize={12.5} fill="#111">{t}</text>
      ))}
      {yMinor.map((v, i) => {
        const major = p.yMajor.some(m => Math.abs(m - v) < 1e-9);
        const py = p.y(v);
        return <line key={i} x1={yAxisX} x2={yAxisX + (major ? 4.5 : 2.5)} y1={py} y2={py} stroke="#000" strokeWidth={0.8} />;
      })}
      {p.yMajor.map(v => (
        <text key={v} x={yAxisX - 5} y={p.y(v)} dy="0.35em" textAnchor="end" fontFamily={font} fontSize={12.5} fill="#111">{p.yFmt(v)}</text>
      ))}
    </g>
  );
};

export default function App() {
  return (
    <svg width={878} height={639} style={{ position: 'absolute', left: 0, top: 0, background: '#fff' }}>
      <rect width={878} height={639} fill="#fff" />
      {panels.map((p, i) => <PanelView key={i} p={p} idx={i} />)}
    </svg>
  );
}
